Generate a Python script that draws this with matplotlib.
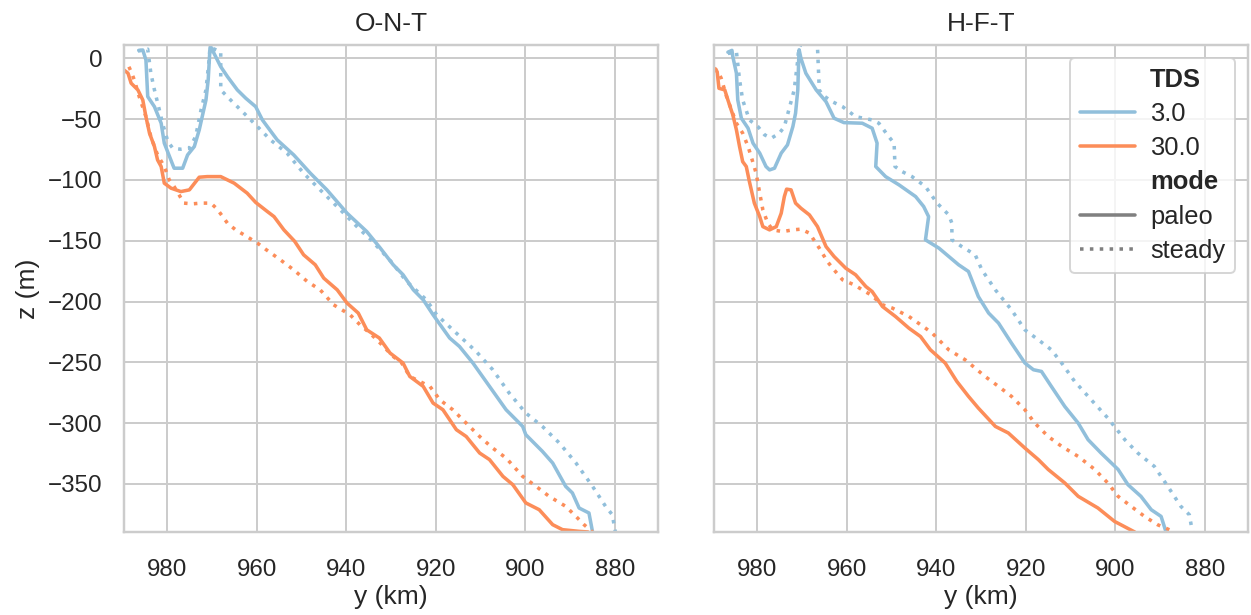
import matplotlib
matplotlib.use("Agg")
import matplotlib.pyplot as plt
from matplotlib.lines import Line2D
import seaborn as sns

ont_3_paleo_y = [986.3, 985.4, 984.7, 984.3, 982.8, 981.3, 980.6, 978.7, 978.4, 976.5, 975.4, 973.9,
                 972.8, 971.3, 970.8, 970.4, 970.3, 968.0, 966.5, 964.3, 962.4, 960.2, 958.7, 957.6,
                 955.4, 951.7, 948.0, 944.3, 939.8, 935.4, 932.4, 929.5, 927.3, 925.0, 922.8, 920.6,
                 916.9, 914.7, 911.7, 908.0, 904.3, 900.6, 899.9, 896.2, 893.9, 891.0, 889.5, 888.0,
                 885.8, 885.0]
ont_3_paleo_z = [6.5, 6.8, -1.4, -31.5, -39.8, -53.4, -69.8, -87.7, -90.4, -90.4, -79.5, -72.6,
                 -58.9, -34.3, -17.8, 8.2, 9.9, -6.9, -15.1, -26, -32.9, -39.8, -50.7, -56.2,
                 -67.1, -79.5, -94.5, -108.2, -127.4, -142.5, -156, -169.8, -178, -190.4, -198.6, -210.9,
                 -230, -237, -250.6, -269.8, -289, -302.7, -309.5, -323.2, -332.8, -352, -357.4, -369.8,
                 -373.9, -389.5]

ont_3_steady_y = [986.5, 985.5, 984.3, 983.6, 982.8, 981.7, 981.0, 979.8, 978.7, 976.9, 975.0, 973.6,
                  972.4, 971.3, 970.6, 970.4, 968.0, 968.0, 968.0, 965.8, 962.8, 959.8, 956.9, 953.2,
                  949.5, 945.8, 941.3, 936.9, 934.8, 930.0, 926.5, 922.1, 919.8, 915.4, 911.0, 907.3,
                  903.6, 899.9, 896.2, 892.4, 888.7, 885.0, 882.1, 880.6, 879.9]
ont_3_steady_z = [6, 6.5, 7.5, -12.3, -26, -42.5, -53.4, -68.5, -74, -74.8, -74, -64.4,
                  -42.5, -26, -1.4, 9, 5.4, -17.8, -26, -34.3, -45.2, -56.2, -67.1, -78,
                  -94.5, -108.2, -124.6, -141, -148, -167, -183.5, -198.6, -210.9, -226, -241, -256,
                  -275.3, -291.7, -302.7, -316.4, -332.8, -352, -368.4, -375.3, -389.5]

ont_30_paleo_y = [990.5, 988.7, 988.0, 986.5, 985.4, 984.7, 983.9, 982.8, 982.1, 981.3, 980.6, 979.1,
                  976.9, 975.0, 972.8, 971.0, 968.0, 965.0, 962.1, 960.2, 957.6, 956.1, 953.9, 951.5,
                  949.5, 946.9, 945.0, 942.0, 939.8, 937.3, 935.4, 932.6, 930.2, 927.3, 925.8, 922.8,
                  920.6, 918.4, 915.4, 913.2, 910.2, 908.0, 905.0, 902.8, 899.9, 896.9, 893.9, 891.7,
                  888.0, 886.0]
ont_30_paleo_z = [-7, -12.3, -20.5, -26, -34.3, -48, -61.6, -72.6, -83.6, -89, -102.7, -106.8,
                  -109.6, -108.2, -97.8, -97.3, -97.3, -102.7, -110.9, -118.5, -126, -130.2, -141.1, -150.5,
                  -161.6, -169.8, -180.8, -190.4, -201.3, -209.5, -223.3, -230, -242.4, -250.6, -261.6, -269.8,
                  -283.5, -289, -305.4, -311, -324.6, -330, -343.8, -350.6, -365.6, -371.2, -383.5, -387.6,
                  -389, -389.5]

ont_30_steady_y = [988.5, 988.0, 987.3, 986.2, 984.7, 983.6, 982.1, 980.6, 979.5, 978.4, 977.3, 976.2,
                   974.3, 972.4, 970.2, 968.8, 967.6, 966.5, 964.7, 962.8, 959.8, 958.0, 954.7, 951.7,
                   948.7, 945.8, 942.8, 939.1, 936.9, 934.7, 932.4, 929.5, 927.6, 925.8, 923.6, 921.3,
                   919.1, 916.2, 913.2, 910.2, 907.3, 904.3, 900.6, 897.6, 894.7, 891.0, 888.7, 886.9,
                   885.0]
ont_30_steady_z = [-7, -11, -17.8, -31.5, -48, -64.4, -79.5, -89, -100, -105.5, -112.3, -119.1,
                   -119.7, -119.1, -119.1, -124, -130, -135.6, -141, -145.2, -152, -157, -165.7, -174,
                   -183.5, -190.4, -202.7, -211, -219.2, -226, -234.2, -245.2, -250.6, -261.6, -265.7, -269.8,
                   -280.8, -289, -300, -311, -320.5, -328.7, -343.8, -352, -360.2, -368.4, -376.7, -383.5,
                   -389.5]

hft_3_paleo_y = [986.5, 985.6, 985.4, 984.6, 984.3, 983.5, 982.0, 980.9, 979.4, 978.0, 977.2, 976.1,
                 974.6, 973.2, 972.0, 971.4, 970.9, 970.7, 970.6, 970.2, 969.1, 966.8, 964.6, 962.8,
                 960.6, 956.5, 954.3, 953.2, 953.5, 951.3, 948.3, 944.6, 942.8, 941.7, 942.4, 939.4,
                 935.0, 932.8, 930.6, 928.3, 926.1, 923.2, 920.2, 918.3, 916.5, 914.3, 911.3, 908.3,
                 906.1, 903.2, 899.4, 897.2, 894.3, 892.0, 889.8, 888.7]
hft_3_paleo_z = [5, 6.5, 1.3, -12.3, -34.3, -49.3, -57.5, -69.8, -78, -89, -91.8, -90.4,
                 -78, -71.2, -56.2, -45.2, -26, -1.4, 7, 0, -12.3, -26, -35.7, -49.3,
                 -52.9, -53.4, -57.5, -69.8, -89, -97.3, -104.1, -113.7, -121.9, -130.2, -149.3, -156.1,
                 -169.8, -175.3, -195.9, -209.5, -217.7, -234.2, -250.6, -256.1, -257.5, -269.8, -286.3, -300,
                 -313.6, -324.6, -338.1, -350.6, -360.2, -371.2, -376.7, -389.5]

hft_3_steady_y = [986.5, 985.5, 984.6, 983.9, 983.2, 981.7, 979.8, 978.3, 976.8, 975.0, 973.9, 972.8,
                  971.7, 970.9, 970.7, 969.5, 967.5, 966.5, 966.1, 965.4, 963.2, 960.9, 958.0, 954.3,
                  952.8, 950.6, 949.4, 949.2, 947.6, 945.4, 942.4, 939.8, 937.2, 936.5, 936.5, 934.3,
                  931.3, 929.8, 926.8, 923.2, 920.2, 917.2, 914.3, 912.0, 909.1, 905.4, 901.7, 897.9,
                  895.0, 891.3, 888.3, 885.4, 883.5, 882.8]
hft_3_steady_z = [4, 4.5, 5.4, -17.8, -34.3, -50.7, -56.2, -63, -65.7, -61.6, -56.2, -41.1,
                  -26, -1.4, 8, 16, 16, 9, -26, -30.2, -35.7, -39.8, -48, -50.7,
                  -53.4, -64.4, -69.8, -89, -93.2, -97.3, -105.5, -119.1, -128.8, -135.6, -149.3, -154.8,
                  -161.6, -174, -190.4, -206.8, -223.3, -231.5, -239.7, -250.6, -265.7, -280.8, -295.8, -313.6,
                  -324.6, -335.6, -352, -368.4, -375.3, -389.5]

hft_30_paleo_y = [990.5, 988.9, 988.5, 987.2, 986.5, 985.4, 984.6, 983.9, 983.2, 982.4, 981.7, 980.6,
                  979.4, 978.7, 977.2, 975.7, 974.6, 973.9, 973.4, 972.4, 971.4, 970.2, 968.3, 966.5,
                  964.6, 962.8, 960.2, 958.0, 955.7, 954.3, 952.0, 949.1, 946.1, 943.5, 941.3, 938.0,
                  935.4, 932.8, 930.6, 926.8, 923.9, 920.2, 917.2, 915.0, 911.3, 908.3, 903.9, 900.2,
                  895.7]
hft_30_paleo_z = [-7, -11, -24.7, -26, -34.3, -46.6, -58.9, -72.6, -85, -89, -101.4, -119.1,
                  -130.2, -138.4, -141.1, -138.4, -127.4, -113.7, -107.6, -108.2, -119.1, -123.3, -128.8, -138.4,
                  -154.8, -163, -172.6, -178, -187.7, -191.8, -204.1, -212.3, -221.9, -228.8, -239.7, -250.6,
                  -265.7, -278, -287.6, -302.7, -308.1, -320.5, -330, -338.1, -349.2, -360.2, -369.8, -380.8,
                  -389.5]

hft_30_steady_y = [989.5, 988.7, 988.0, 986.8, 985.7, 984.6, 983.2, 982.0, 981.3, 980.2, 979.4, 978.7,
                   977.6, 976.5, 974.3, 972.0, 970.2, 968.3, 967.2, 966.1, 964.3, 962.8, 960.9, 958.3,
                   956.5, 954.6, 952.0, 949.8, 946.1, 942.4, 940.9, 937.2, 933.5, 929.1, 926.1, 923.2,
                   920.2, 918.0, 915.0, 912.0, 908.3, 904.6, 901.7, 899.4, 896.5, 893.5, 890.6, 886.8]
hft_30_steady_z = [-8, -11, -16.4, -31.5, -42.5, -53.4, -61.6, -72.6, -80.9, -94.5, -110.9, -124.6,
                   -135.6, -141.1, -142.5, -141.1, -140.5, -143.8, -150, -156.1, -167.1, -174, -182.2, -186.3,
                   -190.4, -194.5, -202.7, -205.4, -212.3, -221.9, -226, -239.7, -248, -261.6, -269.8, -278,
                   -289, -300, -311, -319.1, -327.4, -338.1, -349.2, -360.2, -368.4, -376.7, -383.5, -389.5]

titles = ["O-N-T", "H-F-T"]
tds_labels = ["3.0", "30.0"]
mode_labels = ["paleo", "steady"]
colors = {"3.0": "#91bfdb", "30.0": "#fc8d59"}
dashes = {"paleo": "", "steady": (1, 1.8)}

panels = [
    {"3.0": {"paleo": (ont_3_paleo_y, ont_3_paleo_z), "steady": (ont_3_steady_y, ont_3_steady_z)},
     "30.0": {"paleo": (ont_30_paleo_y, ont_30_paleo_z), "steady": (ont_30_steady_y, ont_30_steady_z)}},
    {"3.0": {"paleo": (hft_3_paleo_y, hft_3_paleo_z), "steady": (hft_3_steady_y, hft_3_steady_z)},
     "30.0": {"paleo": (hft_30_paleo_y, hft_30_paleo_z), "steady": (hft_30_steady_y, hft_30_steady_z)}},
]

sns.set_theme(style="whitegrid", context="notebook", font_scale=1.12)
plt.rcParams["font.family"] = ["Liberation Sans", "DejaVu Sans"]

dpi = 141
lw = 1.8
fig, axes = plt.subplots(1, 2, figsize=(1251 / dpi, 615 / dpi), dpi=dpi, sharex=True, sharey=True)
fig.subplots_adjust(left=0.0991, right=0.9976, bottom=0.135, top=0.927, wspace=0.105)

for ax, title, panel in zip(axes, titles, panels):
    for tds in tds_labels:
        for mode in mode_labels:
            ys, zs = panel[tds][mode]
            line, = ax.plot(ys, zs, color=colors[tds], lw=lw)
            if dashes[mode]:
                line.set_dashes(dashes[mode])
    ax.set_title(title, pad=7)
    ax.set_xlabel("y (km)", labelpad=2)
    ax.set_xticks([980, 960, 940, 920, 900, 880])
    ax.set_yticks([0, -50, -100, -150, -200, -250, -300, -350])
    ax.tick_params(axis="x", pad=8)
    ax.tick_params(axis="y", pad=5)

axes[0].set_xlim(989.6, 870.4)
axes[0].set_ylim(-389.5, 11)
axes[0].set_ylabel("z (m)", labelpad=4)

# seaborn-like legend with sub-headers
handles = [Line2D([], [], color="none")]
labels = ["TDS"]
for tds in tds_labels:
    handles.append(Line2D([], [], color=colors[tds], lw=lw))
    labels.append(tds)
handles.append(Line2D([], [], color="none"))
labels.append("mode")
for mode in mode_labels:
    h = Line2D([], [], color="0.5", lw=lw)
    if dashes[mode]:
        h.set_dashes(dashes[mode])
    handles.append(h)
    labels.append(mode)

leg = axes[1].legend(handles, labels, loc="upper right", fontsize=13, handlelength=2.15,
                     handletextpad=0.6, labelspacing=0.4)
for txt in leg.get_texts():
    if txt.get_text() in ("TDS", "mode"):
        txt.set_fontweight("bold")

fig.savefig("out.png", dpi=dpi)
